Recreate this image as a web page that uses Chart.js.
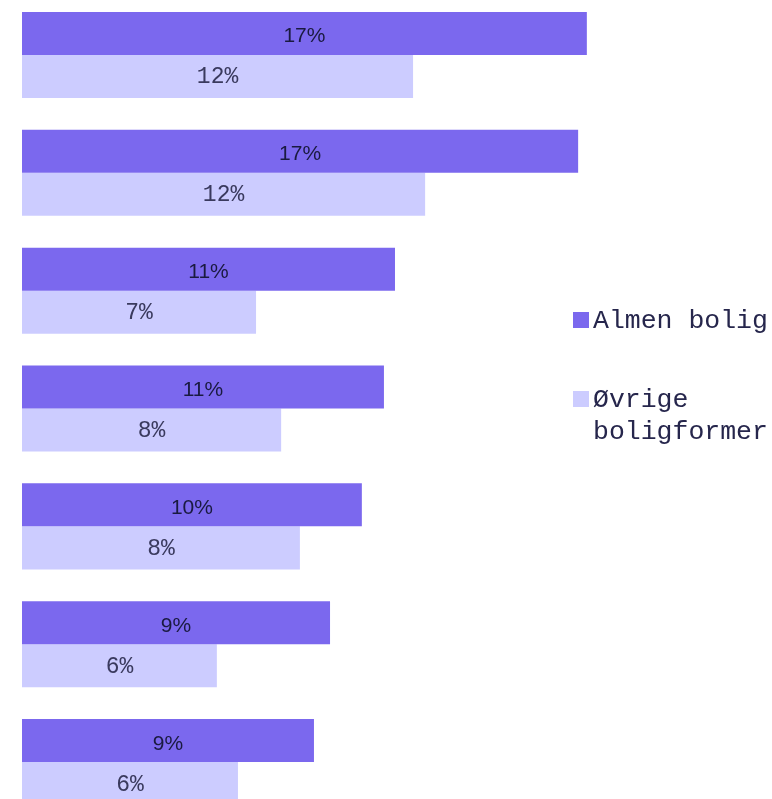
<!DOCTYPE html>
<html>
<head>
<meta charset="utf-8">
<script src="https://cdn.jsdelivr.net/npm/chart.js@4/dist/chart.umd.min.js"></script>
<style>
html, body { margin: 0; padding: 0; background: #ffffff; overflow: hidden; width: 772px; height: 799px; }
#wrap { position: absolute; left: 0; top: -4px; width: 772px; height: 825px; }
</style>
</head>
<body>
<div id="wrap"><canvas id="c" width="772" height="825"></canvas></div>
<script>
// ---- data ----
const categories = ['Kategori 1', 'Kategori 2', 'Kategori 3', 'Kategori 4', 'Kategori 5', 'Kategori 6', 'Kategori 7'];
const seriesNames = ['Almen bolig', 'Øvrige boligformer'];
const almenBolig = [16.87, 16.61, 11.14, 10.81, 10.15, 9.20, 8.72];
const ovrigeBoligformer = [11.68, 12.04, 6.99, 7.74, 8.30, 5.82, 6.45];
const legendLines = [['Almen bolig'], ['Øvrige', 'boligformer']];

// ---- styles ----
const seriesColors = ['#7B68EE', '#CCCCFF'];
const labelStyles = [
  { font: '21px "Liberation Sans", Arial, sans-serif', color: '#1a1a40', dy: 9 },
  { font: '23px "Liberation Mono", "Courier New", monospace', color: '#3a3a5e', dy: 7 }
];

const barLabels = {
  id: 'barLabels',
  afterDatasetsDraw(chart) {
    const ctx = chart.ctx;
    chart.data.datasets.forEach((ds, di) => {
      const meta = chart.getDatasetMeta(di);
      const st = labelStyles[di];
      ctx.save();
      ctx.font = st.font;
      ctx.fillStyle = st.color;
      ctx.textAlign = 'center';
      ctx.textBaseline = 'alphabetic';
      meta.data.forEach((el, i) => {
        const v = ds.data[i];
        const x = (el.x + el.base) / 2;
        ctx.fillText(Math.round(v) + '%', x, el.y + st.dy);
      });
      ctx.restore();
    });
  }
};

const sideLegend = {
  id: 'sideLegend',
  afterDraw(chart) {
    const ctx = chart.ctx;
    const boxX = 573, boxSize = 16, textX = 593, lineH = 31.5;
    const tops = [316, 395];
    ctx.save();
    ctx.font = '26.5px "Liberation Mono", "Courier New", monospace';
    ctx.textAlign = 'left';
    ctx.textBaseline = 'alphabetic';
    chart.data.datasets.forEach((ds, di) => {
      const top = tops[di];
      ctx.fillStyle = ds.backgroundColor;
      ctx.fillRect(boxX, top, boxSize, boxSize);
      ctx.fillStyle = '#26264c';
      legendLines[di].forEach((line, li) => {
        ctx.fillText(line, textX, top + boxSize + li * lineH);
      });
    });
    ctx.restore();
  }
};

new Chart(document.getElementById('c'), {
  type: 'bar',
  data: {
    labels: categories,
    datasets: [
      { label: seriesNames[0], data: almenBolig, backgroundColor: seriesColors[0], borderWidth: 0,
        categoryPercentage: 0.73, barPercentage: 1.0 },
      { label: seriesNames[1], data: ovrigeBoligformer, backgroundColor: seriesColors[1], borderWidth: 0,
        categoryPercentage: 0.73, barPercentage: 1.0 }
    ]
  },
  options: {
    indexAxis: 'y',
    responsive: false,
    animation: false,
    devicePixelRatio: 1,
    layout: { padding: { left: 22, right: 0, top: 0, bottom: 0 } },
    scales: {
      x: { display: false, min: 0, max: 22.4 },
      y: { display: false }
    },
    plugins: {
      legend: { display: false },
      tooltip: { enabled: false }
    }
  },
  plugins: [barLabels, sideLegend]
});
</script>
</body>
</html>
